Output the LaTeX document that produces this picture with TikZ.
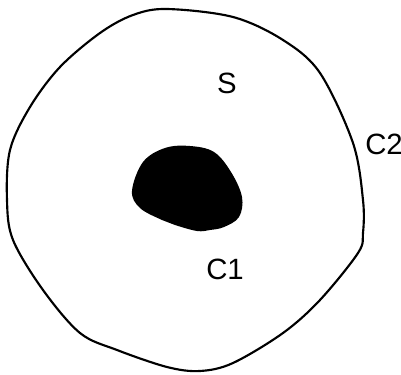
\documentclass[tikz,border=0pt]{standalone}
\usepackage{fontspec}
\setmainfont{Liberation Sans}
\usetikzlibrary{positioning}

\begin{document}
\begin{tikzpicture}[
    x=0.75pt, y=-0.75pt,
    font=\fontsize{22}{26}\selectfont,
    boundary/.style={draw=black, line width=1.6pt, line join=round},
    hole/.style={fill=black},
    tag/.style={inner sep=0pt, anchor=center}
]
\useasboundingbox (0,0) rectangle (401,375);
% outer curve C2
\draw[boundary] plot[smooth cycle, tension=0.55] coordinates {
    (167,9) (233,17) (283,40) (320,73) (353,143) (363,200) (363,233)
    (358,253) (320,300) (283,333) (233,363) (200,371) (167,367)
    (117,350) (80,333) (43,290) (13,240) (7,200) (10,150) (30,107)
    (60,67) (100,33) (133,15)};
% inner region C1
\fill[hole] plot[smooth cycle, tension=0.6] coordinates {
    (132,191) (143,162) (165,148) (190,146) (214,152) (231,172)
    (242,197) (239,217) (224,227) (210,230) (197,231) (175,225)
    (162,220) (140,208)};
\node[tag] (surf) at (227,83) {S};
\node[tag] (outer) at (384,144) {C2};
\node[tag] (inner) at (225,269) {C1};
\end{tikzpicture}
\end{document}
